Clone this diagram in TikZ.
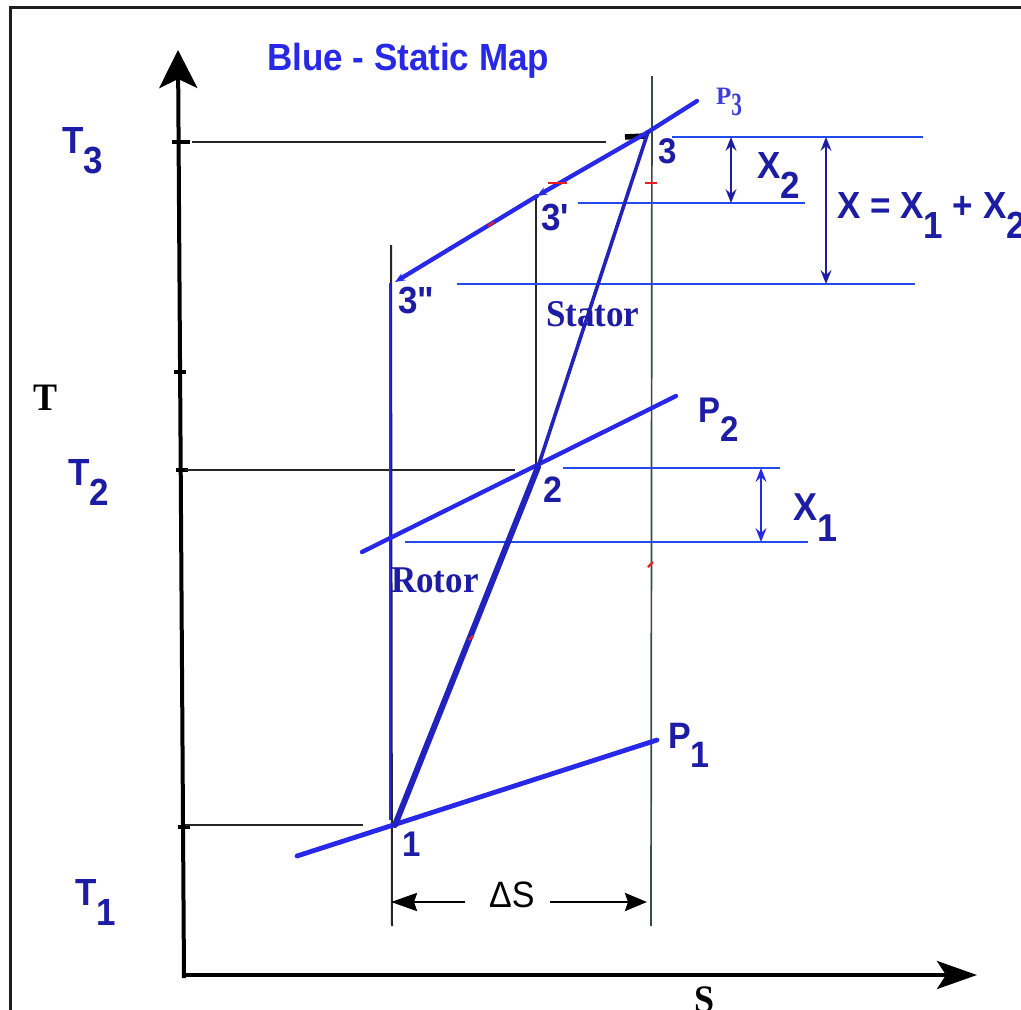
\documentclass[tikz,border=0pt]{standalone}
\usepackage{fontspec}
\setmainfont{Liberation Serif}
\newfontfamily\arial{Liberation Sans}
\usetikzlibrary{arrows.meta}
\definecolor{navy}{RGB}{28,28,165}
\definecolor{bblue}{RGB}{40,40,232}
\definecolor{lblue}{RGB}{35,75,235}
\definecolor{pblue}{RGB}{34,34,190}
\definecolor{p3blue}{RGB}{60,60,225}
\definecolor{gline}{RGB}{55,75,75}
\definecolor{framec}{RGB}{30,30,30}
\definecolor{redmark}{RGB}{235,30,30}
\newcommand\lsub[2]{#1\raisebox{-0.54em}{#2}}
\newcommand\vst[1]{\scalebox{1}[1.08]{#1}}
\begin{document}
\begin{tikzpicture}[x=1pt,y=-1pt,
  lab/.style={inner sep=0pt, anchor=base west},
  sanslab/.style={lab, font=\arial\bfseries\fontsize{35}{40}\selectfont, text=navy},
  seriflab/.style={lab, font=\bfseries\fontsize{35}{40}\selectfont, text=navy},
  axis/.style={line width=4pt, black},
  refline/.style={line width=2.3pt, black!85},
  thinblue/.style={line width=1.8pt, lblue},
  isobar/.style={line width=4.3pt, bblue, line cap=round},
  dimarrow/.style={line width=1.7pt, navy, {Stealth[length=14pt,width=11pt,inset=5pt]}-{Stealth[length=14pt,width=11pt,inset=5pt]}},
  tick/.style={line width=3.5pt, black},
  redtick/.style={line width=2.2pt, redmark}]
\useasboundingbox (0,0) rectangle (1021,1010);
% frame
\coordinate (FTL) at (10,7);
\coordinate (FTR) at (1021,7);
\coordinate (FBL) at (10,1010);
\draw[line width=3pt, framec] (FTR) -- (FTL) -- (FBL);
% axes
\coordinate (Ybot) at (184,978);
\coordinate (Ytop) at (178,50);
\coordinate (O) at (182,975);
\coordinate (Xend) at (977,975);
\draw[axis, -{Stealth[length=38pt,width=38pt,inset=9pt]}] (Ybot) -- (Ytop);
\draw[axis, -{Stealth[length=40pt,width=28pt,inset=9pt]}] (O) -- (Xend);
% ticks on T axis
\coordinate (t3a) at (172,142); \coordinate (t3b) at (190,142);
\coordinate (tma) at (174,372); \coordinate (tmb) at (186,372);
\coordinate (t2a) at (176,470); \coordinate (t2b) at (188,470);
\coordinate (t1a) at (178,827); \coordinate (t1b) at (190,827);
\draw[tick] (t3a) -- (t3b);
\draw[tick] (tma) -- (tmb);
\draw[tick] (t2a) -- (t2b);
\draw[tick] (t1a) -- (t1b);
% key points
\coordinate (p1) at (395,825);
\coordinate (p2) at (538,467);
\coordinate (p3) at (648,132);
\coordinate (p3a) at (537,196);
\coordinate (p3b) at (395,282);
\coordinate (P3e) at (697,101);
\coordinate (P2s) at (362,552);
\coordinate (P2e) at (676,396);
\coordinate (P1s) at (297,856);
\coordinate (P1e) at (657,740);
% black reference lines
\coordinate (h3a) at (192,142); \coordinate (h3b) at (606,142);
\coordinate (h3c) at (625,137); \coordinate (h3d) at (645,136);
\coordinate (h2a) at (185,470); \coordinate (h2b) at (515,470);
\coordinate (h1a) at (185,825); \coordinate (h1b) at (363,825);
\draw[refline] (h3a) -- (h3b);
\draw[line width=5.5pt, black] (h3c) -- (h3d);
\draw[refline] (h2a) -- (h2b);
\draw[refline] (h1a) -- (h1b);
% vertical lines
\coordinate (v1a) at (391,245); \coordinate (v1b) at (392,926);
\coordinate (v1c) at (390,283); \coordinate (v1d) at (390,820);
\coordinate (v2a) at (536,198); \coordinate (v2b) at (536,470);
\coordinate (v3a) at (652,76); \coordinate (v3b) at (651,926);
\draw[line width=2pt, black!85] (v1a) -- (v1b);
\draw[line width=2.8pt, bblue] (v1c) -- (v1d);
\draw[line width=2pt, black!85] (v2a) -- (v2b);
\draw[line width=1.7pt, gline] (v3a) -- (v3b);
% thin blue horizontals
\coordinate (b1a) at (672,137); \coordinate (b1b) at (923,137);
\coordinate (b2a) at (578,203); \coordinate (b2b) at (805,203);
\coordinate (b3a) at (457,284); \coordinate (b3b) at (915,284);
\coordinate (b4a) at (563,468); \coordinate (b4b) at (780,468);
\coordinate (b5a) at (405,542); \coordinate (b5b) at (808,542);
\draw[thinblue] (b1a) -- (b1b);
\draw[thinblue] (b2a) -- (b2b);
\draw[thinblue] (b3a) -- (b3b);
\draw[thinblue] (b4a) -- (b4b);
\draw[thinblue] (b5a) -- (b5b);
% isobars
\draw[isobar, line width=4.8pt] (P1s) -- (P1e);
\draw[isobar] (P2s) -- (P2e);
\draw[isobar] (p3) -- (P3e);
\draw[isobar, -{Stealth[length=10pt,width=8pt]}] (p3) -- (p3a);
\draw[isobar, -{Stealth[length=10pt,width=8pt]}] (p3a) -- (p3b);
% process line
\draw[line width=6pt, pblue, line cap=round] (p1) -- (p2);
\draw[line width=3.6pt, pblue, line cap=round] (p2) -- (p3);
% red marks
\coordinate (r1a) at (548,183); \coordinate (r1b) at (567,183);
\coordinate (r2a) at (645,183); \coordinate (r2b) at (657,183);
\coordinate (r3a) at (488,226); \coordinate (r3b) at (494,222);
\coordinate (r4a) at (648,567); \coordinate (r4b) at (653,562);
\coordinate (r5a) at (469,640); \coordinate (r5b) at (473,636);
\draw[redtick] (r1a) -- (r1b);
\draw[redtick] (r2a) -- (r2b);
\draw[redtick] (r3a) -- (r3b);
\draw[redtick] (r4a) -- (r4b);
\draw[redtick] (r5a) -- (r5b);
% dimension arrows
\coordinate (x2a) at (731,137); \coordinate (x2b) at (731,203);
\coordinate (xa) at (826,137); \coordinate (xb) at (826,284);
\coordinate (x1a) at (761,468); \coordinate (x1b) at (761,542);
\draw[dimarrow] (x2a) -- (x2b);
\draw[dimarrow] (xa) -- (xb);
\draw[dimarrow, bblue] (x1a) -- (x1b);
% Delta S
\coordinate (dsl) at (465,902); \coordinate (dsle) at (391,902);
\coordinate (dsr) at (550,902); \coordinate (dsre) at (647,902);
\draw[line width=2.8pt, black, -{Stealth[length=26pt,width=18pt,inset=3pt]}] (dsl) -- (dsle);
\draw[line width=2.8pt, black, -{Stealth[length=22pt,width=18pt,inset=3pt]}] (dsr) -- (dsre);
% labels
\node[sanslab, text=bblue] (title) at (267,70) {\vst{Blue - Static Map}};
\node[lab, font=\bfseries\fontsize{36}{40}\selectfont] (Tlab) at (33,410) {\vst{T}};
\node[lab, font=\bfseries\fontsize{36}{40}\selectfont] (Slab) at (694,1012) {\vst{S}};
\node[sanslab] (T3) at (62,153) {\vst{\lsub{T}{3}}};
\node[sanslab] (T2) at (68,485) {\vst{\lsub{T}{2}}};
\node[sanslab] (T1) at (75,905) {\vst{\lsub{T}{1}}};
\node[sanslab, font=\arial\bfseries\fontsize{34}{40}\selectfont] (P1) at (668,748) {\vst{\lsub{P}{1}}};
\node[sanslab, font=\arial\bfseries\fontsize{33}{40}\selectfont] (P2) at (698,422) {\vst{\lsub{P}{2}}};
\node[lab, text=p3blue, font=\bfseries\fontsize{25}{28}\selectfont] (P3) at (716,104) {P\raisebox{-11pt}{\scalebox{0.85}[1.3]{3}}};
\node[sanslab] (X2) at (757,178) {\vst{\lsub{X}{2}}};
\node[sanslab, font=\arial\bfseries\fontsize{36}{40}\selectfont] (X1) at (793,520) {\vst{\lsub{X}{1}}};
\node[sanslab] (Xsum) at (837,218) {\vst{X = \lsub{X}{1} + \lsub{X}{2}}};
\node[sanslab, font=\arial\bfseries\fontsize{33}{40}\selectfont] (n1) at (402,856) {\vst{1}};
\node[sanslab, font=\arial\bfseries\fontsize{34}{40}\selectfont] (n2) at (543,502) {\vst{2}};
\node[sanslab, font=\arial\bfseries\fontsize{33}{40}\selectfont] (n3) at (658,163) {\vst{3}};
\node[sanslab, font=\arial\bfseries\fontsize{35}{40}\selectfont] (n3a) at (541,230) {\vst{3'}};
\node[sanslab, font=\arial\bfseries\fontsize{35}{40}\selectfont] (n3b) at (398,313) {\vst{3"}};
\node[seriflab] (stator) at (546,326) {\vst{Stator}};
\node[seriflab] (rotor) at (391,592) {\vst{Rotor}};
\node[lab, font=\arial\fontsize{34}{40}\selectfont, text=black] (dS) at (489,907) {\vst{ΔS}};
\end{tikzpicture}
\end{document}
